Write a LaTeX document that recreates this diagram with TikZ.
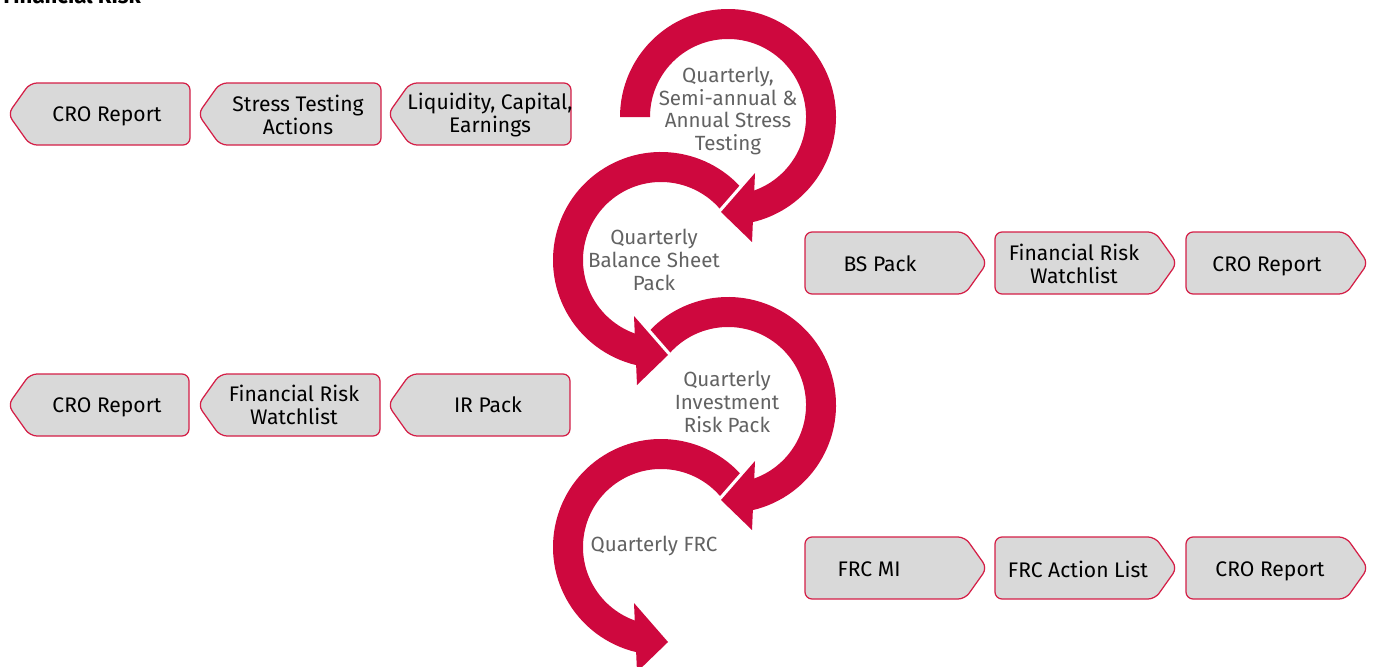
\documentclass[tikz,border=0pt]{standalone}
\usepackage{fontspec}
\setmainfont{Fira Sans}
\definecolor{crim}{RGB}{206,8,62}
\definecolor{boxfill}{RGB}{217,217,217}
\definecolor{boxline}{RGB}{212,30,70}
\definecolor{ringtext}{RGB}{98,98,98}
\tikzset{
  boxshape/.style={draw=boxline, fill=boxfill, line width=0.7pt, rounded corners=0.14cm},
  boxtext/.style={align=center, text=black, inner sep=0pt, font=\fontsize{12}{12.8}\selectfont},
  ringtxt/.style={align=center, text=ringtext, inner sep=0pt, font=\fontsize{11.7}{12.9}\selectfont},
  halo/.style={draw=white, line width=0.13cm, line join=round},
  ringfill/.style={fill=crim}
}
% left-pointing box: x-left, x-right, y-top, y-bottom (pixel, y downward)
\newcommand{\leftbox}[4]{\draw[boxshape] (#1,{-(#3+#4)/2}) -- (#1+22,-#3) -- (#2,-#3) -- (#2,-#4) -- (#1+22,-#4) -- cycle;}
\newcommand{\rightbox}[4]{\draw[boxshape] (#1,-#3) -- (#2-22,-#3) -- (#2,{-(#3+#4)/2}) -- (#2-22,-#4) -- (#1,-#4) -- cycle;}
\begin{document}
\begin{tikzpicture}[x=0.02cm, y=0.02cm]
\useasboundingbox (0,0) rectangle (1375,-666);

% title (mostly cut off at the top)
\node[anchor=base west, inner sep=0pt, font=\bfseries\fontsize{12.6}{13}\selectfont] (title) at (3,-4) {Financial Risk};

% ---------- rings (drawn bottom to top) ----------
% ring 4
\begin{scope}[shift={(661,-547)}]
  \draw[halo] (-27,-56) -- (7,-95) -- (-24,-125) -- cycle;
  \fill[ringfill] (32:108) arc[start angle=32, end angle=260, radius=108] -- (260:78) arc[start angle=260, end angle=32, radius=78] -- cycle;
  \fill[ringfill] (-27,-56) -- (7,-95) -- (-24,-125) -- cycle;
\end{scope}
% ring 3
\begin{scope}[shift={(728,-405)}]
  \draw[halo] (27,-56) -- (-7,-95) -- (24,-125) -- cycle;
  \fill[ringfill] (148:108) arc[start angle=148, end angle=-80, radius=108] -- (-80:78) arc[start angle=-80, end angle=148, radius=78] -- cycle;
  \fill[ringfill] (27,-56) -- (-7,-95) -- (24,-125) -- cycle;
\end{scope}
% ring 2
\begin{scope}[shift={(661,-260)}]
  \draw[halo] (-27,-56) -- (7,-95) -- (-24,-125) -- cycle;
  \fill[ringfill] (32:108) arc[start angle=32, end angle=260, radius=108] -- (260:78) arc[start angle=260, end angle=32, radius=78] -- cycle;
  \fill[ringfill] (-27,-56) -- (7,-95) -- (-24,-125) -- cycle;
\end{scope}
% ring 1
\begin{scope}[shift={(728,-117)}]
  \draw[halo] (27,-56) -- (-7,-95) -- (24,-125) -- cycle;
  \fill[ringfill] (180:108) arc[start angle=180, end angle=-80, radius=108] -- (-80:78) arc[start angle=-80, end angle=180, radius=78] -- cycle;
  \fill[ringfill] (27,-56) -- (-7,-95) -- (24,-125) -- cycle;
\end{scope}

% ring labels
\node[ringtxt] (r1) at (728,-111) {Quarterly,\\Semi-annual \&\\Annual Stress\\Testing};
\node[ringtxt] (r2) at (654,-260) {Quarterly\\Balance Sheet\\Pack};
\node[ringtxt] (r3) at (727,-402) {Quarterly\\Investment\\Risk Pack};
\node[ringtxt] (r4) at (654,-546) {Quarterly FRC};

% ---------- left boxes, row 1 ----------
\leftbox{8}{190}{83}{145}
\leftbox{198}{381}{83}{145}
\leftbox{388}{571}{83}{145}
\node[boxtext] (a1) at (107,-116) {CRO Report};
\node[boxtext] (a2) at (298,-115) {Stress Testing\\Actions};
\node[boxtext] (a3) at (490,-115) {Liquidity, Capital,\\Earnings};

% ---------- left boxes, row 2 ----------
\leftbox{8}{189}{374}{436}
\leftbox{198}{380}{374}{436}
\leftbox{388}{570}{374}{436}
\node[boxtext] (b1) at (107,-407) {CRO Report};
\node[boxtext] (b2) at (294,-405) {Financial Risk\\Watchlist};
\node[boxtext] (b3) at (488,-405) {IR Pack};

% ---------- right boxes, row 1 ----------
\rightbox{805}{987}{232}{294}
\rightbox{995}{1177}{232}{294}
\rightbox{1186}{1368}{232}{294}
\node[boxtext] (c1) at (880,-264) {BS Pack};
\node[boxtext] (c2) at (1074,-264) {Financial Risk\\Watchlist};
\node[boxtext] (c3) at (1267,-266) {CRO Report};

% ---------- right boxes, row 2 ----------
\rightbox{805}{987}{537}{599}
\rightbox{995}{1177}{537}{599}
\rightbox{1186}{1368}{537}{599}
\node[boxtext] (d1) at (869,-569) {FRC MI};
\node[boxtext] (d2) at (1078,-569) {FRC Action List};
\node[boxtext] (d3) at (1270,-571) {CRO Report};
\end{tikzpicture}
\end{document}
